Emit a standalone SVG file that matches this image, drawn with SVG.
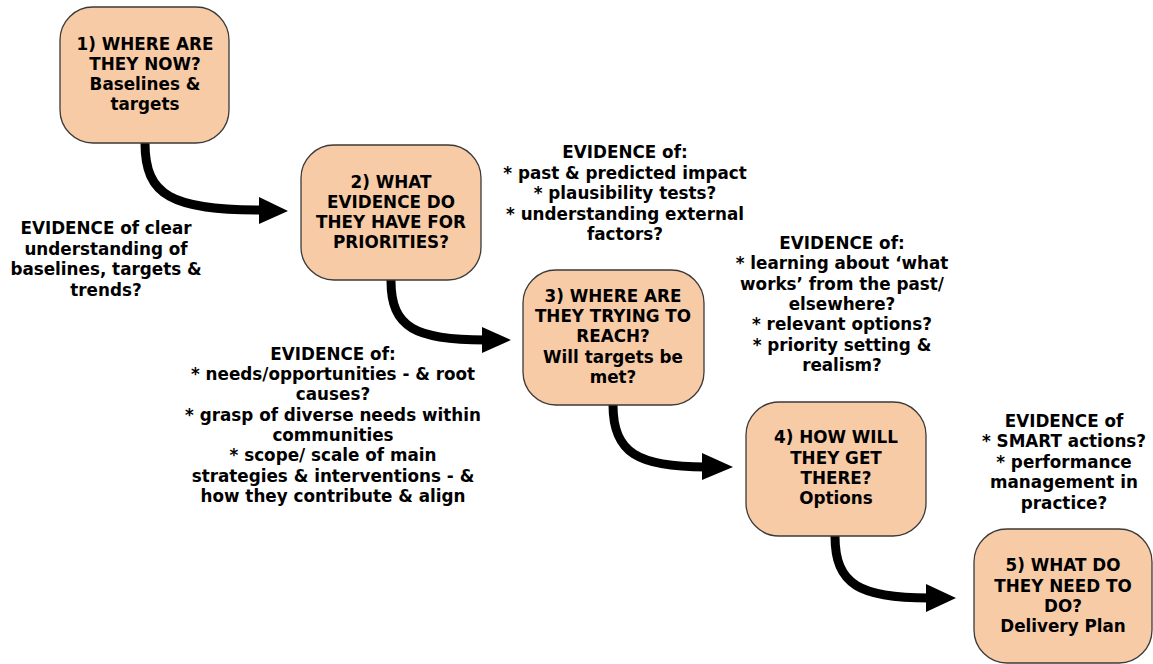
<svg xmlns="http://www.w3.org/2000/svg" width="1153" height="664" viewBox="0 0 1153 664">
<style>
.box{fill:#F8CBA7;stroke:#3a3a3a;stroke-width:1.3}
text{font-family:"DejaVu Sans","Verdana",sans-serif;font-weight:bold;font-size:16.8px;fill:#000;text-anchor:middle}
.conn{fill:none;stroke:#000;stroke-width:9;stroke-linecap:round}
.head{fill:#000}
</style>
<rect width="1153" height="664" fill="#fff"/>
<g id="connectors">
<path class="conn" d="M145,143 C145,196 172,210 262,210"/>
<polygon class="head" points="259,197 288,211 259,224"/>
<path class="conn" d="M391,281 C391,328 416,340 485,340"/>
<polygon class="head" points="482,327 511,340 482,353"/>
<path class="conn" d="M613,405 C613,453 638,467 706,467"/>
<polygon class="head" points="702,453 733,467 702,480"/>
<path class="conn" d="M835,536 C835,585 860,598 929,598"/>
<polygon class="head" points="926,584 956,598 926,612"/>
</g>
<g id="node1">
<rect class="box" x="60" y="7" width="169" height="136" rx="33"/>
<text x="145" y="50">1) WHERE ARE</text>
<text x="145" y="70">THEY NOW?</text>
<text x="145" y="90">Baselines &amp;</text>
<text x="145" y="110">targets</text>
</g>
<g id="node2">
<rect class="box" x="301" y="145" width="180" height="135" rx="33"/>
<text x="391" y="188">2) WHAT</text>
<text x="391" y="208">EVIDENCE DO</text>
<text x="391" y="228">THEY HAVE FOR</text>
<text x="391" y="248">PRIORITIES?</text>
</g>
<g id="node3">
<rect class="box" x="523" y="270" width="181" height="135" rx="33"/>
<text x="613" y="302">3) WHERE ARE</text>
<text x="613" y="322">THEY TRYING TO</text>
<text x="613" y="342">REACH?</text>
<text x="613" y="363">Will targets be</text>
<text x="613" y="383">met?</text>
</g>
<g id="node4">
<rect class="box" x="746" y="402" width="180" height="134" rx="33"/>
<text x="836" y="443">4) HOW WILL</text>
<text x="836" y="464">THEY GET</text>
<text x="836" y="484">THERE?</text>
<text x="836" y="504">Options</text>
</g>
<g id="node5">
<rect class="box" x="974" y="529" width="178" height="134" rx="33"/>
<text x="1063" y="571">5) WHAT DO</text>
<text x="1063" y="592">THEY NEED TO</text>
<text x="1063" y="612">DO?</text>
<text x="1063" y="632">Delivery Plan</text>
</g>
<g id="label1">
<text x="106" y="234">EVIDENCE of clear</text>
<text x="106" y="255">understanding of</text>
<text x="106" y="275">baselines, targets &amp;</text>
<text x="106" y="296">trends?</text>
</g>
<g id="label2">
<text x="625" y="158">EVIDENCE of:</text>
<text x="625" y="179">* past &amp; predicted impact</text>
<text x="625" y="199">* plausibility tests?</text>
<text x="625" y="220">* understanding external</text>
<text x="625" y="240">factors?</text>
</g>
<g id="label3">
<text x="333" y="360">EVIDENCE of:</text>
<text x="333" y="380">* needs/opportunities - &amp; root</text>
<text x="333" y="400">causes?</text>
<text x="333" y="421">* grasp of diverse needs within</text>
<text x="333" y="441">communities</text>
<text x="333" y="461">* scope/ scale of main</text>
<text x="333" y="482">strategies &amp; interventions - &amp;</text>
<text x="333" y="502">how they contribute &amp; align</text>
</g>
<g id="label4">
<text x="842" y="249">EVIDENCE of:</text>
<text x="842" y="269">* learning about ‘what</text>
<text x="842" y="290">works’ from the past/</text>
<text x="842" y="310">elsewhere?</text>
<text x="842" y="330">* relevant options?</text>
<text x="842" y="351">* priority setting &amp;</text>
<text x="842" y="371">realism?</text>
</g>
<g id="label5">
<text x="1064" y="427">EVIDENCE of</text>
<text x="1064" y="447">* SMART actions?</text>
<text x="1064" y="468">* performance</text>
<text x="1064" y="488">management in</text>
<text x="1064" y="509">practice?</text>
</g>
</svg>
